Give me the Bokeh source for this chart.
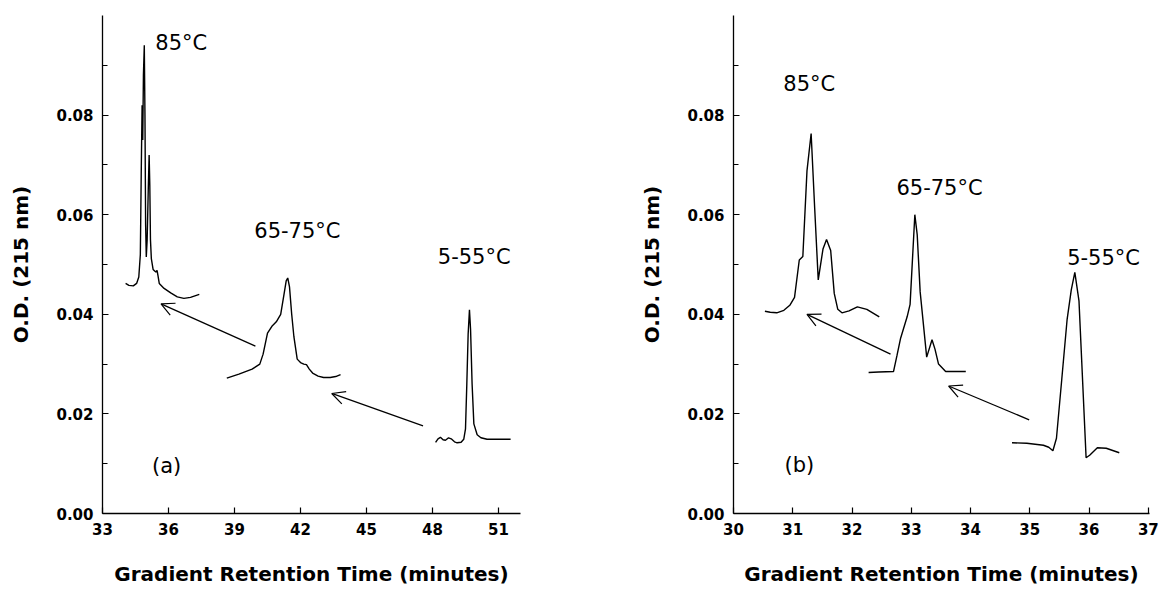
from bokeh.plotting import figure
from bokeh.layouts import row
from bokeh.models import FixedTicker, NumeralTickFormatter, Arrow, OpenHead
from bokeh.core.properties import value
from bokeh.embed import file_html
from bokeh.resources import INLINE

# ---------------- data: panel (a) ----------------
a_x_ticks = [33, 36, 39, 42, 45, 48, 51]
a_85_x = [34.05, 34.2, 34.4, 34.55, 34.65, 34.72, 34.76, 34.80, 34.83, 34.86, 34.90, 34.93, 34.96, 34.99,
          35.03, 35.08, 35.12, 35.15, 35.18, 35.22, 35.30, 35.42, 35.48, 35.52, 35.58, 35.8, 36.1, 36.4,
          36.7, 37.0, 37.4]
a_85_y = [0.0462, 0.0458, 0.0457, 0.0462, 0.0475, 0.052, 0.068, 0.082, 0.075, 0.088, 0.0940, 0.080, 0.058, 0.0515,
          0.055, 0.065, 0.0720, 0.066, 0.055, 0.0512, 0.0490, 0.0485, 0.0488, 0.0478, 0.0462, 0.0452, 0.0443, 0.0435,
          0.0432, 0.0434, 0.0440]
a_6575_x = [38.65, 39.2, 39.8, 40.15, 40.3, 40.5, 40.7, 40.9, 41.1, 41.25, 41.35, 41.42, 41.5, 41.6, 41.7,
            41.85, 42.0, 42.15, 42.27, 42.4, 42.55, 42.8, 43.05, 43.35, 43.6, 43.82]
a_6575_y = [0.0272, 0.0280, 0.0290, 0.0300, 0.0320, 0.0362, 0.0376, 0.0385, 0.0400, 0.0440, 0.0467, 0.0473, 0.0455,
            0.0400, 0.0355, 0.0310, 0.0303, 0.0300, 0.0299, 0.0290, 0.0282, 0.0276, 0.0273, 0.0273, 0.0275, 0.0279]
a_555_x = [48.14, 48.25, 48.36, 48.48, 48.59, 48.73, 48.85, 49.0, 49.12, 49.3, 49.42, 49.50, 49.56, 49.62, 49.68,
           49.73, 49.80, 49.88, 50.03, 50.2, 50.48, 51.0, 51.55]
a_555_y = [0.0143, 0.0150, 0.0153, 0.0148, 0.0147, 0.0152, 0.0150, 0.0144, 0.0142, 0.0143, 0.0149, 0.0170, 0.0260,
           0.0360, 0.0409, 0.0370, 0.0260, 0.0180, 0.0158, 0.0152, 0.0149, 0.0149, 0.0149]
a_arrow_x0 = [39.95, 47.57]
a_arrow_y0 = [0.0336, 0.0176]
a_arrow_x1 = [35.66, 43.42]
a_arrow_y1 = [0.0421, 0.0241]

# ---------------- data: panel (b) ----------------
b_x_ticks = [30, 31, 32, 33, 34, 35, 36, 37]
b_85_x = [30.53, 30.62, 30.73, 30.85, 30.95, 31.03, 31.11, 31.17, 31.24, 31.31, 31.37, 31.43, 31.51, 31.57,
          31.64, 31.70, 31.76, 31.83, 31.95, 32.09, 32.25, 32.46]
b_85_y = [0.0406, 0.0404, 0.0403, 0.0408, 0.0418, 0.0434, 0.0509, 0.0516, 0.0688, 0.0763, 0.0613, 0.0469, 0.0531,
          0.0550, 0.0528, 0.0442, 0.0410, 0.0403, 0.0407, 0.0415, 0.0410, 0.0395]
b_6575_x = [32.28, 32.45, 32.70, 32.76, 32.82, 32.93, 32.98, 33.06, 33.10, 33.15, 33.26, 33.35, 33.40, 33.46,
            33.58, 33.75, 33.92]
b_6575_y = [0.0283, 0.0284, 0.0285, 0.0318, 0.0352, 0.0395, 0.0420, 0.0600, 0.0560, 0.0445, 0.0314, 0.0349,
            0.0330, 0.0300, 0.0285, 0.0285, 0.0285]
b_555_x = [34.70, 34.95, 35.23, 35.32, 35.39, 35.45, 35.54, 35.63, 35.70, 35.76, 35.83, 35.95, 36.01, 36.14,
           36.29, 36.51]
b_555_y = [0.0142, 0.0141, 0.0137, 0.0133, 0.0126, 0.0151, 0.0270, 0.0390, 0.0449, 0.0484, 0.0427, 0.0112,
           0.0117, 0.0132, 0.0131, 0.0122]
b_arrow_x0 = [32.65, 34.99]
b_arrow_y0 = [0.0320, 0.0188]
b_arrow_x1 = [31.24, 33.63]
b_arrow_y1 = [0.0400, 0.0256]

y_ticks = [0.0, 0.02, 0.04, 0.06, 0.08]
y_minor = [0.01, 0.03, 0.05, 0.07, 0.09]
x_title = "Gradient Retention Time (minutes)"
y_title = "O.D. (215 nm)"

FONT = "DejaVu Sans"
H = 590


def style(p, xticks, xlab_standoff, ylab_standoff):
    p.xgrid.visible = False
    p.ygrid.visible = False
    p.outline_line_color = None
    p.xaxis.ticker = FixedTicker(ticks=xticks)
    p.yaxis.ticker = FixedTicker(ticks=y_ticks, minor_ticks=y_minor)
    p.yaxis.formatter = NumeralTickFormatter(format="0.00")
    for ax in (p.xaxis, p.yaxis):
        ax.axis_line_color = "black"
        ax.axis_line_width = 1.3
        ax.major_tick_in = 6
        ax.major_tick_out = 0
        ax.major_tick_line_width = 1.2
        ax.major_label_text_font = FONT
        ax.major_label_text_font_style = "bold"
        ax.major_label_text_font_size = "15px"
        ax.major_label_text_color = "black"
        ax.major_label_standoff = 9
        ax.axis_label_text_font = FONT
        ax.axis_label_text_font_style = "bold"
        ax.axis_label_text_font_size = "20px"
        ax.axis_label_text_color = "black"
    p.xaxis.minor_tick_in = 0
    p.xaxis.minor_tick_out = 0
    p.yaxis.minor_tick_in = 5
    p.yaxis.minor_tick_out = 0
    p.yaxis.minor_tick_line_width = 1.2
    p.xaxis.axis_label = x_title
    p.yaxis.axis_label = y_title
    p.xaxis.axis_label_standoff = xlab_standoff
    p.yaxis.axis_label_standoff = ylab_standoff


def draw(p, curves, ax0, ay0, ax1, ay1, labels, lx, ly):
    for cx, cy in curves:
        p.line(cx, cy, line_color="black", line_width=1.4)
    for i in range(len(ax0)):
        p.add_layout(Arrow(end=OpenHead(size=13, line_width=1.2, line_color="black"),
                           x_start=ax0[i], y_start=ay0[i], x_end=ax1[i], y_end=ay1[i],
                           line_width=1.3, line_color="black"))
    p.text(x=lx, y=ly, text=labels, text_font=value(FONT), text_font_size="21px",
           text_baseline="alphabetic", text_align="left", text_color="black")


pa = figure(width=632, height=H, x_range=(33, 52), y_range=(0, 0.1),
            output_backend="svg", toolbar_location=None,
            min_border_left=102, min_border_right=112, min_border_top=13, min_border_bottom=H - 513)
style(pa, a_x_ticks, 24, 20)
draw(pa, [(a_85_x, a_85_y), (a_6575_x, a_6575_y), (a_555_x, a_555_y)],
     a_arrow_x0, a_arrow_y0, a_arrow_x1, a_arrow_y1,
     ["85°C", "65-75°C", "5-55°C", "(a)"],
     [35.4, 39.9, 48.24, 35.25], [0.0944, 0.0567, 0.0515, 0.0095])

pb = figure(width=528, height=H, x_range=(30, 37.02), y_range=(0, 0.1),
            output_backend="svg", toolbar_location=None,
            min_border_left=101, min_border_right=11, min_border_top=15, min_border_bottom=H - 518)
style(pb, b_x_ticks, 24, 20)
draw(pb, [(b_85_x, b_85_y), (b_6575_x, b_6575_y), (b_555_x, b_555_y)],
     b_arrow_x0, b_arrow_y0, b_arrow_x1, b_arrow_y1,
     ["85°C", "65-75°C", "5-55°C", "(b)"],
     [30.84, 32.75, 35.63, 30.86], [0.0863, 0.0654, 0.0513, 0.0098])

layout = row(pa, pb)
open("out.html", "w").write(file_html(layout, INLINE))
